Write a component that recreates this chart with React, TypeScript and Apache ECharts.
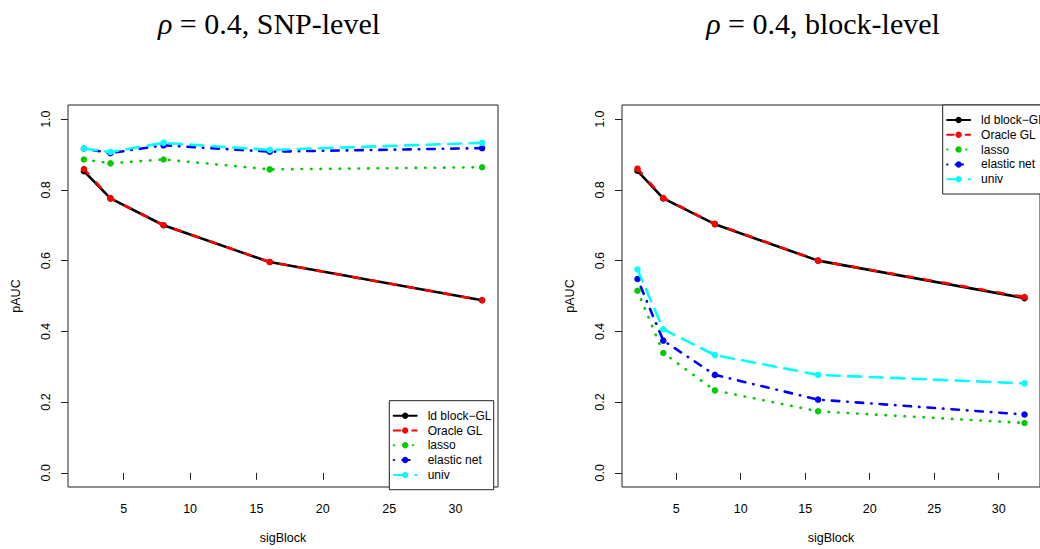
import React, { useEffect, useRef } from "react";
import * as echarts from "echarts";

const sigBlock = [2, 4, 8, 16, 32];
const seriesNames = ["ld block\u2212GL", "Oracle GL", "lasso", "elastic net", "univ"];

// SNP-level panel
const snpLdBlock = [0.853, 0.776, 0.700, 0.596, 0.488];
const snpOracle = [0.859, 0.776, 0.700, 0.596, 0.488];
const snpLasso = [0.886, 0.875, 0.886, 0.858, 0.864];
const snpEnet = [0.917, 0.904, 0.926, 0.908, 0.918];
const snpUniv = [0.917, 0.907, 0.933, 0.913, 0.933];

// block-level panel
const blkLdBlock = [0.854, 0.776, 0.703, 0.600, 0.494];
const blkOracle = [0.860, 0.777, 0.704, 0.600, 0.497];
const blkLasso = [0.515, 0.339, 0.233, 0.174, 0.141];
const blkEnet = [0.548, 0.374, 0.277, 0.207, 0.165];
const blkUniv = [0.575, 0.406, 0.333, 0.277, 0.253];

const xTicks = [5, 10, 15, 20, 25, 30];
const yTicks = [0, 0.2, 0.4, 0.6, 0.8, 1.0];

const colors = ["#000000", "#ff0000", "#00cd00", "#0000ff", "#00ffff"];
const dashes: (number[] | "solid")[] = [
  "solid",
  [6.5, 12],
  [0.5, 9],
  [0.5, 8, 7.5, 8],
  [13, 8.5],
];

const SANS = "'Liberation Sans', Arial, Helvetica, sans-serif";
const SERIF = "'Liberation Serif', 'Times New Roman', serif";

export default function App() {
  const ref = useRef<HTMLDivElement>(null);
  useEffect(() => {
    document.body.style.margin = "0";
    const chart = echarts.init(ref.current!, null, { renderer: "svg" });
    const panels = [
      [snpLdBlock, snpOracle, snpLasso, snpEnet, snpUniv],
      [blkLdBlock, blkOracle, blkLasso, blkEnet, blkUniv],
    ];
    const grids = [
      { left: 68, top: 105, width: 430, height: 385 },
      { left: 622, top: 105, width: 429, height: 385 },
    ];
    const mkX = (i: number) => ({
      type: "value",
      gridIndex: i,
      min: 0.8,
      max: 33.2,
      name: "sigBlock",
      nameLocation: "middle",
      nameGap: 44,
      nameTextStyle: { fontFamily: SANS, fontSize: 12.5, color: "#000" },
      axisLine: { show: false },
      axisTick: { show: true, length: 7, customValues: xTicks, lineStyle: { color: "#222", width: 1 } },
      axisLabel: { customValues: xTicks, fontFamily: SANS, fontSize: 12.5, color: "#000", margin: 15 },
      splitLine: { show: false },
    });
    const mkY = (i: number) => ({
      type: "value",
      gridIndex: i,
      min: -0.04,
      max: 1.04,
      name: "pAUC",
      nameLocation: "middle",
      nameGap: 46,
      nameRotate: 90,
      nameTextStyle: { fontFamily: SANS, fontSize: 12.5, color: "#000" },
      axisLine: { show: false },
      axisTick: { show: true, length: 7, customValues: yTicks, lineStyle: { color: "#222", width: 1 } },
      axisLabel: {
        customValues: yTicks,
        rotate: 90,
        fontFamily: SANS,
        fontSize: 12.5,
        color: "#000",
        margin: 16,
        formatter: (v: number) => v.toFixed(1),
      },
      splitLine: { show: false },
    });
    const series: any[] = [];
    panels.forEach((vals, p) => {
      vals.forEach((arr, k) => {
        series.push({
          type: "line",
          name: seriesNames[k],
          xAxisIndex: p,
          yAxisIndex: p,
          data: sigBlock.map((x, j) => [x, arr[j]]),
          symbol: "circle",
          symbolSize: 6.5,
          showSymbol: true,
          itemStyle: { color: colors[k] },
          lineStyle: { color: colors[k], width: 2.6, type: dashes[k], cap: "round" },
          emphasis: { disabled: true },
          z: 2 + k,
        });
      });
    });
    const mkLegend = (left: number, top: number) => ({
      orient: "vertical",
      left,
      top,
      data: seriesNames,
      itemWidth: 23,
      itemHeight: 8,
      itemGap: 0.8,
      padding: [8, 0, 7.8, 3.4],
      borderColor: "#222",
      borderWidth: 1,
      backgroundColor: "#fff",
      selectedMode: false,
      textStyle: {
        fontFamily: SANS,
        fontSize: 12,
        color: "#000",
        lineHeight: 14,
        width: 66,
        padding: [0, 0, 0, 6],
        overflow: "none",
      },
    });
    const titleStyle = {
      fontFamily: SERIF,
      fontSize: 30,
      fontWeight: "normal",
      color: "#000",
      rich: { r: { fontFamily: SERIF, fontSize: 30, fontStyle: "italic", color: "#000" } },
    };
    chart.setOption({
      animation: false,
      backgroundColor: "#fff",
      title: [
        { text: "{r|\u03c1} = 0.4, SNP-level", left: 264, top: 3, textAlign: "center", textStyle: titleStyle },
        { text: "{r|\u03c1} = 0.4, block-level", left: 818, top: 3, textAlign: "center", textStyle: titleStyle },
      ],
      grid: grids.map((g) => ({ ...g, show: true, borderColor: "#222", borderWidth: 1, backgroundColor: "transparent" })),
      xAxis: [mkX(0), mkX(1)],
      yAxis: [mkY(0), mkY(1)],
      legend: [mkLegend(389.3, 400.7), mkLegend(942.7, 105)],
      series,
    });
    return () => chart.dispose();
  }, []);
  return <div ref={ref} style={{ position: "fixed", left: 0, top: 0, width: 1040, height: 549 }} />;
}
